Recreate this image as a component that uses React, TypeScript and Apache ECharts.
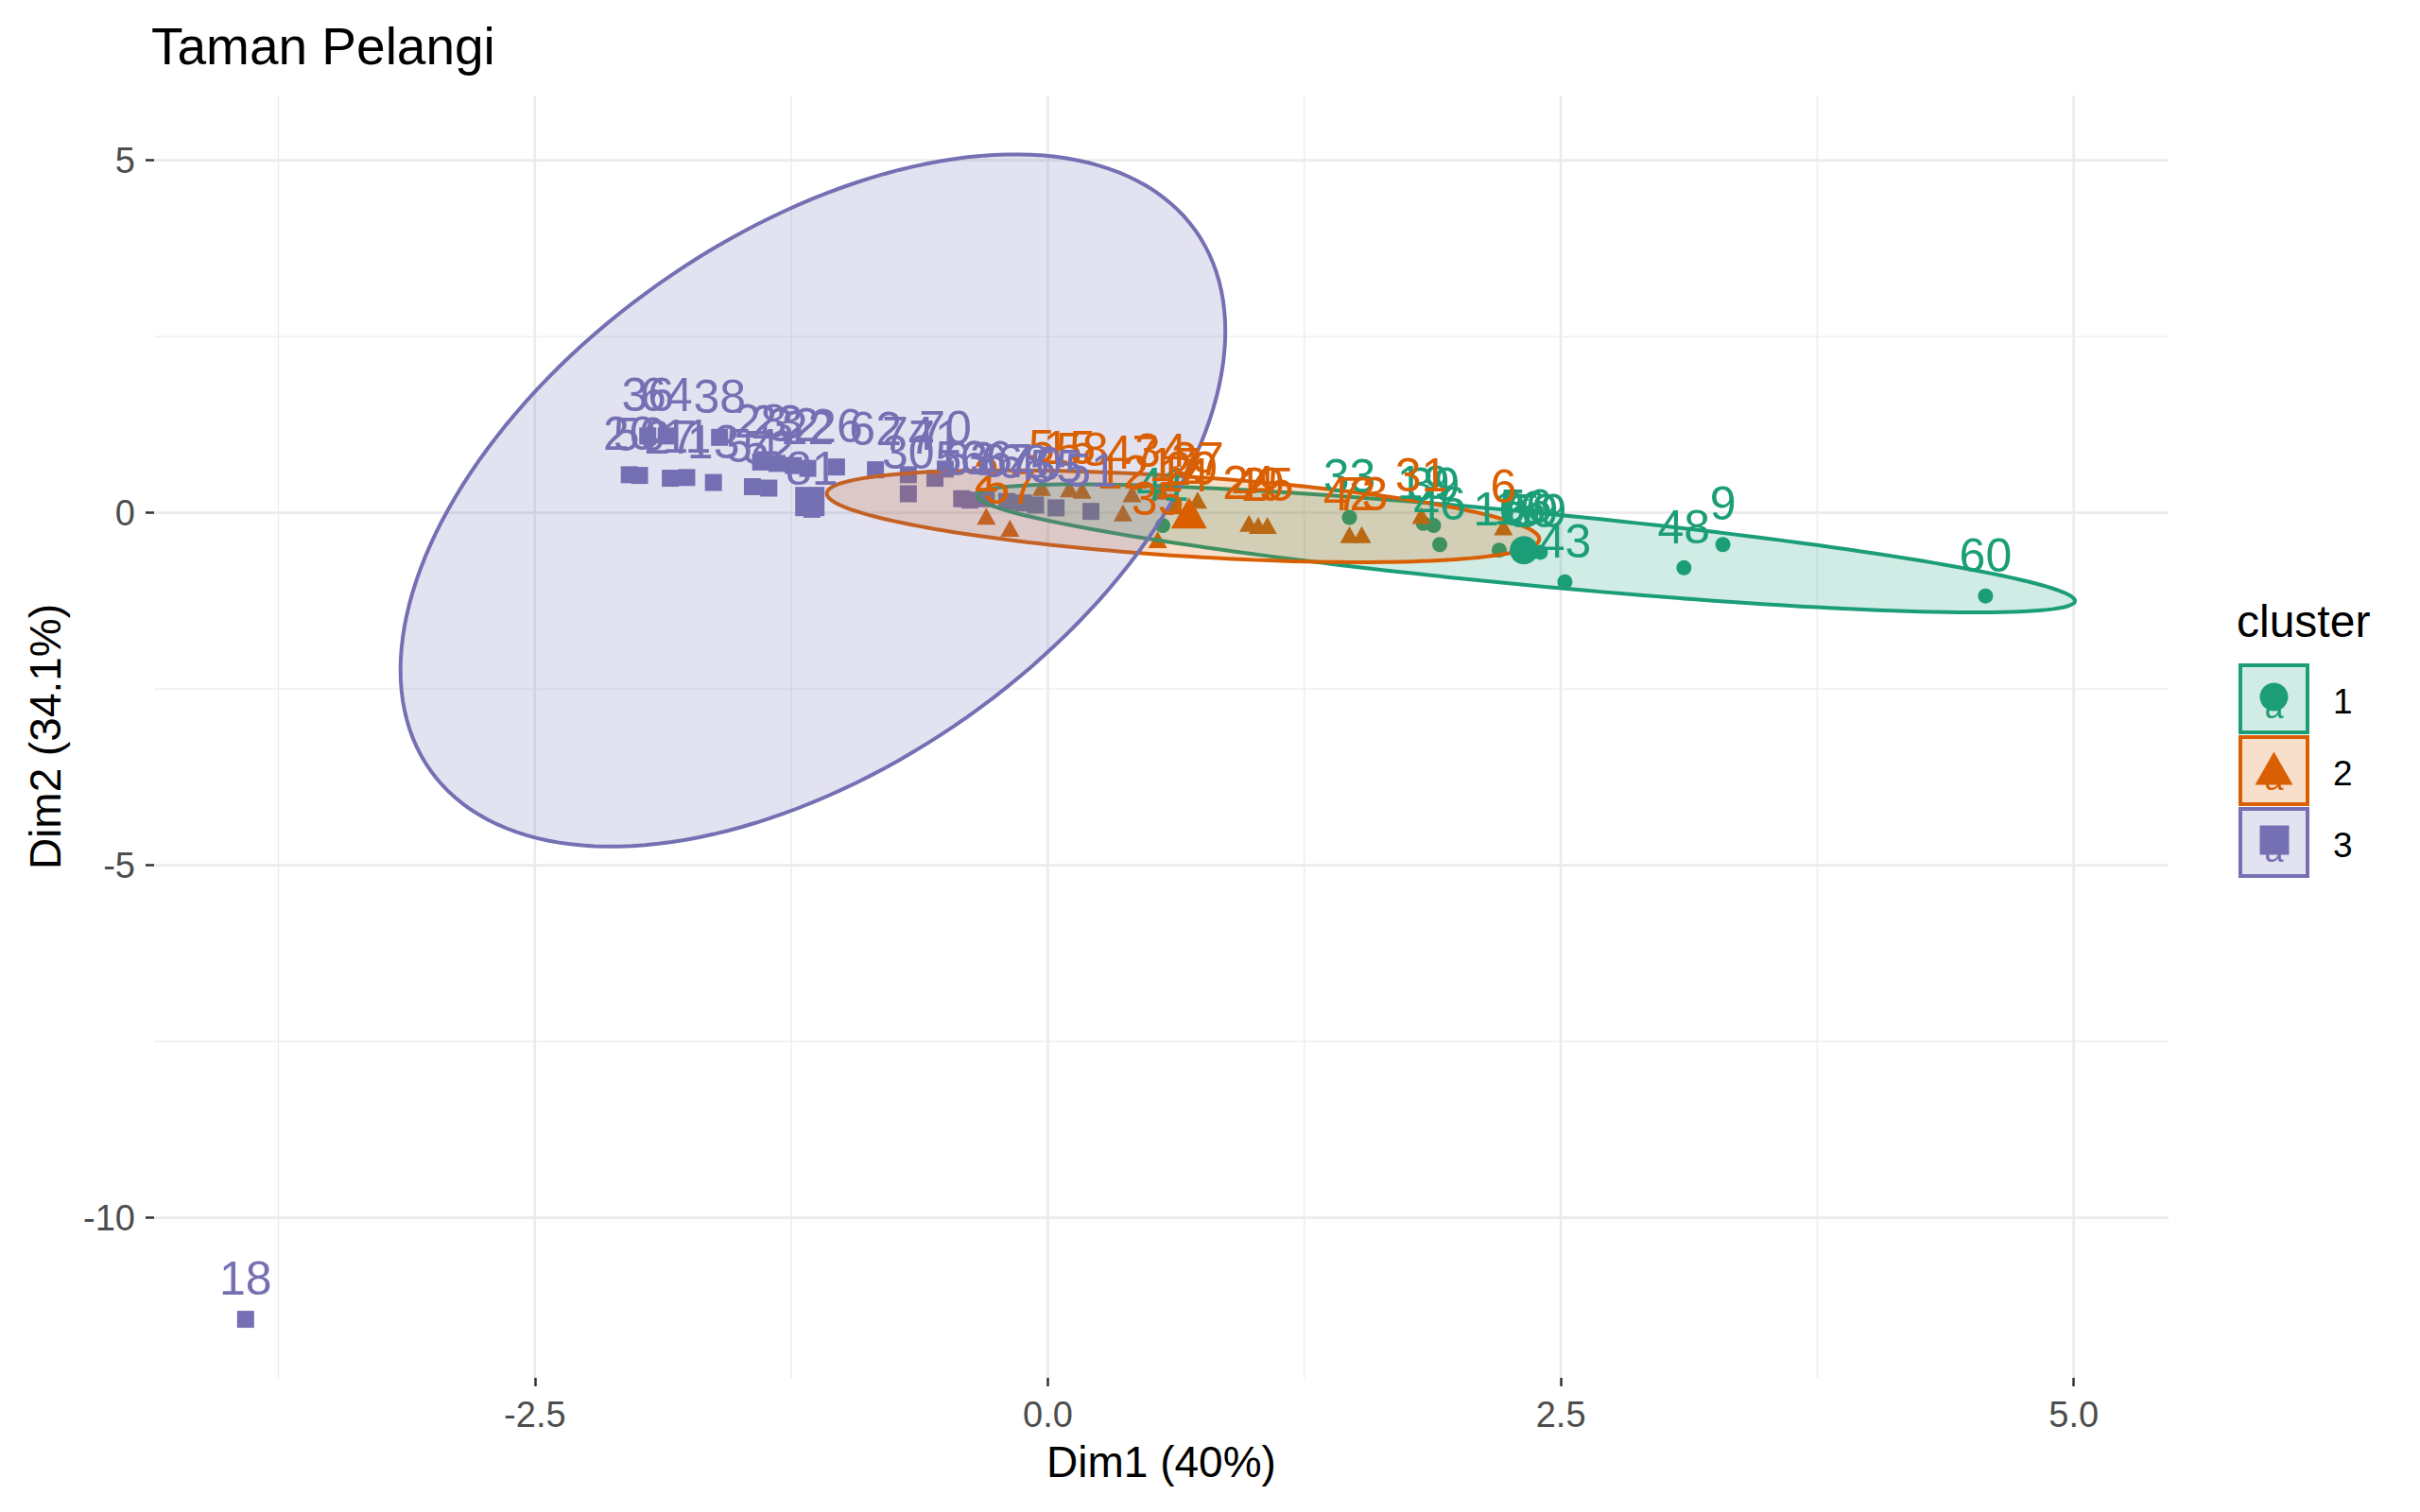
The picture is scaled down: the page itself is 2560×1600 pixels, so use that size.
import React, { useEffect, useRef } from "react";
import * as echarts from "echarts";

const FONT = "'Liberation Sans', Arial, Helvetica, sans-serif";

const chartTitle = "Taman Pelangi";
const xTitle = "Dim1 (40%)";
const yTitle = "Dim2 (34.1%)";
const legendTitle = "cluster";

const clusterNames = ["1", "2", "3"];
const clusterColors = ["#1B9E77", "#D95F02", "#7570B3"];
const clusterFills = ["rgba(27,158,119,0.2)", "rgba(217,95,2,0.2)", "rgba(117,112,179,0.2)"];
const clusterSymbols = ["circle", "triangle", "rect"];

// cluster 1 (green)
const c1X = [0.56, 1.47, 1.83, 1.88, 1.91, 2.2, 2.3, 2.33, 2.36, 2.4, 2.52, 3.1, 3.29, 4.57];
const c1Y = [-0.18, -0.065, -0.15, -0.18, -0.45, -0.53, -0.51, -0.49, -0.56, -0.56, -0.98, -0.78, -0.45, -1.18];
const c1Labels = ["41", "33", "19", "39", "46", "10", "16", "56", "69", "59", "43", "48", "9", "60"];

// cluster 2 (orange)
const c2X = [-0.3, -0.185, -0.03, 0.105, 0.167, 0.366, 0.41, 0.535, 0.55, 0.62, 0.66, 0.7, 0.73, 0.98, 1.025, 1.07, 1.47, 1.53, 1.82, 2.22];
const c2Y = [-0.05, -0.22, 0.36, 0.34, 0.32, 0.0, 0.27, -0.38, 0.31, 0.1, -0.05, 0.05, 0.18, -0.15, -0.18, -0.18, -0.31, -0.31, -0.04, -0.2];
const c2Labels = ["2", "57", "5", "15", "58", "12", "47", "35", "34", "17", "14", "29", "37", "24", "49", "25", "42", "73", "31", "6"];

// cluster 3 (purple)
const c3X = [-1.95, -1.86, -1.6, -2.04, -1.99, -1.84, -1.76, -1.63, -1.44, -1.36, -1.4, -1.32, -1.24, -1.17, -1.03, -0.84, -0.68, -0.5, -0.68, -0.55, -0.42, -0.38, -0.3, -0.2, -0.12, -0.06, 0.04, 0.21, -1.15, -3.91];
const c3Y = [1.09, 1.09, 1.07, 0.54, 0.53, 0.49, 0.5, 0.43, 0.37, 0.35, 0.72, 0.7, 0.67, 0.63, 0.65, 0.61, 0.54, 0.62, 0.27, 0.49, 0.2, 0.18, 0.2, 0.16, 0.14, 0.11, 0.07, 0.02, 0.05, -11.44];
const c3Labels = ["36", "64", "38", "20", "50", "27", "11", "13", "54", "52", "28", "23", "32", "22", "26", "62", "74", "70", "30", "71", "53", "63", "66", "67", "68", "40", "55", "51", "81", "18"];

// cluster centres
const centerX = [2.32, 0.688, -1.16];
const centerY = [-0.53, 0.0, 0.16];

// concentration ellipses: centre and covariance-like shape matrix (data units)
const ellipseCX = [2.33, 0.659, -1.145];
const ellipseCY = [-0.504, -0.049, 0.175];
const ellipseVarX = [7.16, 3.015, 4.04];
const ellipseCov = [-1.995, -0.561, 4.83];
const ellipseVarY = [0.826, 0.425, 24.1];

// axes
const xMin = -4.356;
const xMax = 5.462;
const yMin = -12.27;
const yMax = 5.92;
const xMajor = [-2.5, 0, 2.5, 5];
const xMinor = [-3.75, -1.25, 1.25, 3.75];
const yMajor = [-10, -5, 0, 5];
const yMinor = [-7.5, -2.5, 2.5];
const xTickLabels = ["-2.5", "0.0", "2.5", "5.0"];
const yTickLabels = ["-10", "-5", "0", "5"];

const allX = [c1X, c2X, c3X];
const allY = [c1Y, c2Y, c3Y];
const allLabels = [c1Labels, c2Labels, c3Labels];

function App() {
  const ref = useRef<HTMLDivElement | null>(null);

  useEffect(() => {
    if (!ref.current) return;
    const chart = echarts.init(ref.current, null, { renderer: "svg" });

    const series: any[] = [];

    // grid lines
    const xGridData = [
      ...xMinor.map((v) => [v, 0, 1.3]),
      ...xMajor.map((v) => [v, 0, 2.6]),
    ];
    const yGridData = [
      ...yMinor.map((v) => [0, v, 1.3]),
      ...yMajor.map((v) => [0, v, 2.6]),
    ];
    series.push({
      type: "custom",
      z: 0,
      silent: true,
      data: xGridData,
      renderItem: (params: any, api: any) => {
        const cs = params.coordSys;
        const x = api.coord([api.value(0), 0])[0];
        return {
          type: "line",
          shape: { x1: x, y1: cs.y, x2: x, y2: cs.y + cs.height },
          style: { stroke: "#EBEBEB", lineWidth: api.value(2) },
        };
      },
    });
    series.push({
      type: "custom",
      z: 0,
      silent: true,
      data: yGridData,
      renderItem: (params: any, api: any) => {
        const cs = params.coordSys;
        const y = api.coord([0, api.value(1)])[1];
        return {
          type: "line",
          shape: { x1: cs.x, y1: y, x2: cs.x + cs.width, y2: y },
          style: { stroke: "#EBEBEB", lineWidth: api.value(2) },
        };
      },
    });

    // points
    for (let k = 0; k < 3; k++) {
      series.push({
        type: "scatter",
        name: clusterNames[k],
        z: 2,
        silent: true,
        symbol: clusterSymbols[k],
        symbolSize: k === 0 ? 16 : k === 1 ? [20, 18] : 18,
        itemStyle: { color: clusterColors[k], opacity: 1 },
        data: allX[k].map((x, i) => [x, allY[k][i]]),
      });
    }

    // ellipses
    for (let k = 0; k < 3; k++) {
      const l11 = Math.sqrt(ellipseVarX[k]);
      const l21 = ellipseCov[k] / l11;
      const l22 = Math.sqrt(ellipseVarY[k] - l21 * l21);
      const cx = ellipseCX[k];
      const cy = ellipseCY[k];
      series.push({
        type: "custom",
        z: 3,
        silent: true,
        data: [[cx, cy]],
        renderItem: (params: any, api: any) => {
          const pts: number[][] = [];
          const N = 180;
          for (let j = 0; j < N; j++) {
            const t = (2 * Math.PI * j) / N;
            const dx = l11 * Math.cos(t);
            const dy = l21 * Math.cos(t) + l22 * Math.sin(t);
            pts.push(api.coord([cx + dx, cy + dy]));
          }
          return {
            type: "polygon",
            shape: { points: pts },
            style: { fill: clusterFills[k], stroke: clusterColors[k], lineWidth: 4 },
          };
        },
      });
    }

    // labels
    for (let k = 0; k < 3; k++) {
      series.push({
        type: "scatter",
        z: 4,
        silent: true,
        symbolSize: 0,
        itemStyle: { color: clusterColors[k], opacity: 1 },
        label: {
          show: true,
          position: "inside",
          offset: [0, -43],
          formatter: (p: any) => p.value[2],
          fontSize: 50,
          fontFamily: FONT,
          color: clusterColors[k],
          opacity: 1,
        },
        data: allX[k].map((x, i) => [x, allY[k][i], allLabels[k][i]]),
      });
    }

    // cluster centres
    for (let k = 0; k < 3; k++) {
      series.push({
        type: "scatter",
        z: 5,
        silent: true,
        symbol: clusterSymbols[k],
        symbolSize: k === 0 ? 30 : k === 1 ? [38, 33] : 31,
        itemStyle: { color: clusterColors[k], opacity: 1 },
        data: [[centerX[k], centerY[k]]],
      });
    }

    // legend (drawn)
    const legendGraphics: any[] = [
      {
        type: "text",
        x: 2366,
        y: 657,
        style: { text: legendTitle, font: `48px ${FONT}`, fill: "#000", verticalAlign: "middle" },
      },
    ];
    const boxTops = [704, 780, 856];
    for (let k = 0; k < 3; k++) {
      const bx = 2370;
      const by = boxTops[k];
      const s = 71;
      const cxk = bx + s / 2;
      const cyk = by + s / 2;
      legendGraphics.push({
        type: "rect",
        shape: { x: bx, y: by, width: s, height: s },
        style: { fill: clusterFills[k], stroke: clusterColors[k], lineWidth: 4 },
      });
      legendGraphics.push({
        type: "text",
        x: cxk,
        y: cyk + 8,
        style: {
          text: "a",
          font: `36px ${FONT}`,
          fill: clusterColors[k],
          align: "center",
          verticalAlign: "middle",
        },
      });
      if (k === 0) {
        legendGraphics.push({
          type: "circle",
          shape: { cx: cxk, cy: cyk - 2, r: 15 },
          style: { fill: clusterColors[k] },
        });
      } else if (k === 1) {
        legendGraphics.push({
          type: "polygon",
          shape: {
            points: [
              [cxk, cyk - 20],
              [cxk - 20, cyk + 15],
              [cxk + 20, cyk + 15],
            ],
          },
          style: { fill: clusterColors[k] },
        });
      } else {
        legendGraphics.push({
          type: "rect",
          shape: { x: cxk - 15, y: cyk - 18, width: 31, height: 31 },
          style: { fill: clusterColors[k] },
        });
      }
      legendGraphics.push({
        type: "text",
        x: 2468,
        y: cyk + 3,
        style: {
          text: clusterNames[k],
          font: `37px ${FONT}`,
          fill: "#000",
          verticalAlign: "middle",
        },
      });
    }
    legendGraphics.push({
      type: "text",
      x: 160,
      y: 49,
      style: {
        text: chartTitle,
        font: `55px ${FONT}`,
        fill: "#000",
        verticalAlign: "middle",
      },
    });

    chart.setOption({
      animation: false,
      backgroundColor: "#FFFFFF",
      grid: { left: 163, right: 266, top: 101, bottom: 142, containLabel: false },
      xAxis: {
        type: "value",
        min: xMin,
        max: xMax,
        name: xTitle,
        nameLocation: "middle",
        nameGap: 66,
        nameTextStyle: { fontSize: 46, fontFamily: FONT, color: "#000" },
        axisLine: { show: false, onZero: false },
        splitLine: { show: false },
        axisTick: {
          show: true,
          customValues: xMajor,
          length: 9,
          lineStyle: { color: "#333333", width: 2.5 },
        },
        axisLabel: {
          customValues: xMajor,
          formatter: (v: number) => xTickLabels[xMajor.indexOf(v)] ?? v.toFixed(1),
          fontSize: 38,
          fontFamily: FONT,
          color: "#4D4D4D",
          margin: 20,
        },
      },
      yAxis: {
        type: "value",
        min: yMin,
        max: yMax,
        name: yTitle,
        nameLocation: "middle",
        nameGap: 92,
        nameRotate: 90,
        nameTextStyle: { fontSize: 46, fontFamily: FONT, color: "#000" },
        axisLine: { show: false, onZero: false },
        splitLine: { show: false },
        axisTick: {
          show: true,
          customValues: yMajor,
          length: 9,
          lineStyle: { color: "#333333", width: 2.5 },
        },
        axisLabel: {
          customValues: yMajor,
          formatter: (v: number) => yTickLabels[yMajor.indexOf(v)] ?? String(v),
          fontSize: 38,
          fontFamily: FONT,
          color: "#4D4D4D",
          margin: 20,
        },
      },
      graphic: legendGraphics,
      series,
    });

    return () => {
      chart.dispose();
    };
  }, []);

  return (
    <div
      ref={ref}
      style={{ position: "fixed", left: 0, top: 0, width: 2560, height: 1600, background: "#fff" }}
    />
  );
}

export default App;
